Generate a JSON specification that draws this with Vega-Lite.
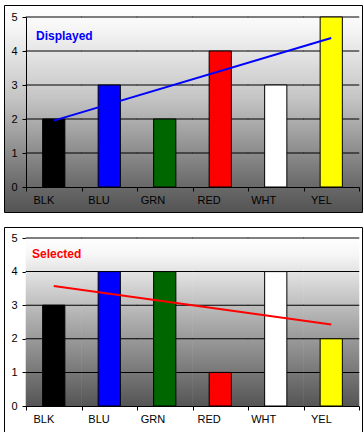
{
  "$schema": "https://vega.github.io/schema/vega-lite/v6.json",
  "padding": {"left": 3, "top": 4, "right": 0, "bottom": 0},
  "background": "white",
  "spacing": 13,
  "config": {
    "view": {"stroke": "black", "strokeWidth": 1},
    "font": "Liberation Sans",
    "axis": {
      "title": null,
      "zindex": 1,
      "grid": false,
      "domainColor": "black",
      "tickColor": "black",
      "tickSize": 4,
      "labelColor": "black",
      "labelFont": "Liberation Sans",
      "labelFontSize": 11
    }
  },
  "datasets": {
    "displayed": [
      {"cat": "BLK", "value": 2},
      {"cat": "BLU", "value": 3},
      {"cat": "GRN", "value": 2},
      {"cat": "RED", "value": 4},
      {"cat": "WHT", "value": 3},
      {"cat": "YEL", "value": 5}
    ],
    "selected": [
      {"cat": "BLK", "value": 3},
      {"cat": "BLU", "value": 4},
      {"cat": "GRN", "value": 4},
      {"cat": "RED", "value": 1},
      {"cat": "WHT", "value": 4},
      {"cat": "YEL", "value": 2}
    ],
    "trendTop": [
      {"cat": "BLK", "value": 1.952},
      {"cat": "YEL", "value": 4.381}
    ],
    "trendBottom": [
      {"cat": "BLK", "value": 3.571},
      {"cat": "YEL", "value": 2.429}
    ],
    "gridcells": [
      {"cat": "BLK", "g": 1}, {"cat": "BLK", "g": 2}, {"cat": "BLK", "g": 3}, {"cat": "BLK", "g": 4}, {"cat": "BLK", "g": 5},
      {"cat": "BLU", "g": 1}, {"cat": "BLU", "g": 2}, {"cat": "BLU", "g": 3}, {"cat": "BLU", "g": 4}, {"cat": "BLU", "g": 5},
      {"cat": "GRN", "g": 1}, {"cat": "GRN", "g": 2}, {"cat": "GRN", "g": 3}, {"cat": "GRN", "g": 4}, {"cat": "GRN", "g": 5},
      {"cat": "RED", "g": 1}, {"cat": "RED", "g": 2}, {"cat": "RED", "g": 3}, {"cat": "RED", "g": 4}, {"cat": "RED", "g": 5},
      {"cat": "WHT", "g": 1}, {"cat": "WHT", "g": 2}, {"cat": "WHT", "g": 3}, {"cat": "WHT", "g": 4}, {"cat": "WHT", "g": 5},
      {"cat": "YEL", "g": 1}, {"cat": "YEL", "g": 2}, {"cat": "YEL", "g": 3}, {"cat": "YEL", "g": 4}, {"cat": "YEL", "g": 5}
    ]
  },
  "vconcat": [
    {
      "width": 358,
      "height": 207,
      "view": {
        "stroke": "black",
        "strokeWidth": 1,
        "fill": {
          "gradient": "linear", "x1": 0, "y1": 0, "x2": 0, "y2": 1,
          "stops": [
            {"offset": 0, "color": "#ffffff"},
            {"offset": 0.1, "color": "#f7f7f7"},
            {"offset": 0.45, "color": "#c4c4c4"},
            {"offset": 0.85, "color": "#6e6e6e"},
            {"offset": 1, "color": "#535353"}
          ]
        }
      },
      "layer": [
        {
          "data": {"name": "gridcells"},
          "mark": {"type": "tick", "color": "black", "thickness": 1, "size": 56, "opacity": 1},
          "encoding": {
            "x": {"field": "cat", "type": "nominal"},
            "y": {"field": "g", "type": "quantitative"}
          }
        },
        {
          "data": {"name": "displayed"},
          "mark": {"type": "bar", "stroke": "black", "strokeWidth": 1, "width": {"band": 0.4}},
          "encoding": {
            "x": {
              "field": "cat", "type": "nominal",
              "scale": {"domain": ["BLK", "BLU", "GRN", "RED", "WHT", "YEL"], "range": [22, 355], "paddingInner": 0, "paddingOuter": 0},
              "axis": {"offset": -25, "tickBand": "extent", "labelAngle": 0, "labelPadding": 9}
            },
            "y": {
              "field": "value", "type": "quantitative",
              "scale": {"domain": [0, 5], "range": [182, 12], "nice": false},
              "axis": {"offset": -22, "values": [0, 1, 2, 3, 4, 5], "labelPadding": 5, "format": "d"}
            },
            "fill": {
              "field": "cat", "type": "nominal",
              "scale": {"domain": ["BLK", "BLU", "GRN", "RED", "WHT", "YEL"], "range": ["#000000", "#0000ff", "#006600", "#ff0000", "#ffffff", "#ffff00"]},
              "legend": null
            }
          }
        },
        {
          "data": {"name": "trendTop"},
          "mark": {"type": "line", "color": "#0000ff", "strokeWidth": 2},
          "encoding": {
            "x": {"field": "cat", "type": "nominal"},
            "y": {"field": "value", "type": "quantitative"}
          }
        },
        {
          "data": {"values": [{"label": "Displayed"}]},
          "mark": {"type": "text", "align": "left", "baseline": "alphabetic", "fontSize": 12, "fontWeight": "bold", "color": "#0000ff", "dx": 10},
          "encoding": {
            "x": {"datum": "BLK", "bandPosition": 0},
            "y": {"datum": 4.32},
            "text": {"field": "label"}
          }
        }
      ]
    },
    {
      "width": 358,
      "height": 205,
      "layer": [
        {
          "data": {"name": "selected"},
          "mark": {
            "type": "bar",
            "width": {"band": 1.01},
            "fill": {
              "gradient": "linear", "x1": 0, "y1": 0, "x2": 0, "y2": 1,
              "stops": [
                {"offset": 0, "color": "#ffffff"},
                {"offset": 0.1, "color": "#f6f6f6"},
                {"offset": 0.5, "color": "#ababab"},
                {"offset": 1, "color": "#555555"}
              ]
            }
          },
          "encoding": {
            "x": {"field": "cat", "type": "nominal"},
            "y": {"datum": 5, "type": "quantitative"},
            "y2": {"datum": 0}
          }
        },
        {
          "data": {"name": "gridcells"},
          "mark": {"type": "tick", "color": "black", "thickness": 1, "size": 56, "opacity": 1},
          "encoding": {
            "x": {"field": "cat", "type": "nominal"},
            "y": {"field": "g", "type": "quantitative"}
          }
        },
        {
          "data": {"name": "selected"},
          "mark": {"type": "bar", "stroke": "black", "strokeWidth": 1, "width": {"band": 0.4}},
          "encoding": {
            "x": {
              "field": "cat", "type": "nominal",
              "scale": {"domain": ["BLK", "BLU", "GRN", "RED", "WHT", "YEL"], "range": [22, 355], "paddingInner": 0, "paddingOuter": 0},
              "axis": {"offset": -26, "tickBand": "extent", "labelAngle": 0, "labelPadding": 9}
            },
            "y": {
              "field": "value", "type": "quantitative",
              "scale": {"domain": [0, 5], "range": [179, 11], "nice": false},
              "axis": {"offset": -22, "values": [0, 1, 2, 3, 4, 5], "labelPadding": 5, "format": "d"}
            },
            "fill": {
              "field": "cat", "type": "nominal",
              "scale": {"domain": ["BLK", "BLU", "GRN", "RED", "WHT", "YEL"], "range": ["#000000", "#0000ff", "#006600", "#ff0000", "#ffffff", "#ffff00"]},
              "legend": null
            }
          }
        },
        {
          "data": {"name": "trendBottom"},
          "mark": {"type": "line", "color": "#ff0000", "strokeWidth": 2},
          "encoding": {
            "x": {"field": "cat", "type": "nominal"},
            "y": {"field": "value", "type": "quantitative"}
          }
        },
        {
          "data": {"values": [{"label": "Selected"}]},
          "mark": {"type": "text", "align": "left", "baseline": "alphabetic", "fontSize": 12, "fontWeight": "bold", "color": "#ff0000", "dx": 6},
          "encoding": {
            "x": {"datum": "BLK", "bandPosition": 0},
            "y": {"datum": 4.4},
            "text": {"field": "label"}
          }
        }
      ]
    }
  ]
}
